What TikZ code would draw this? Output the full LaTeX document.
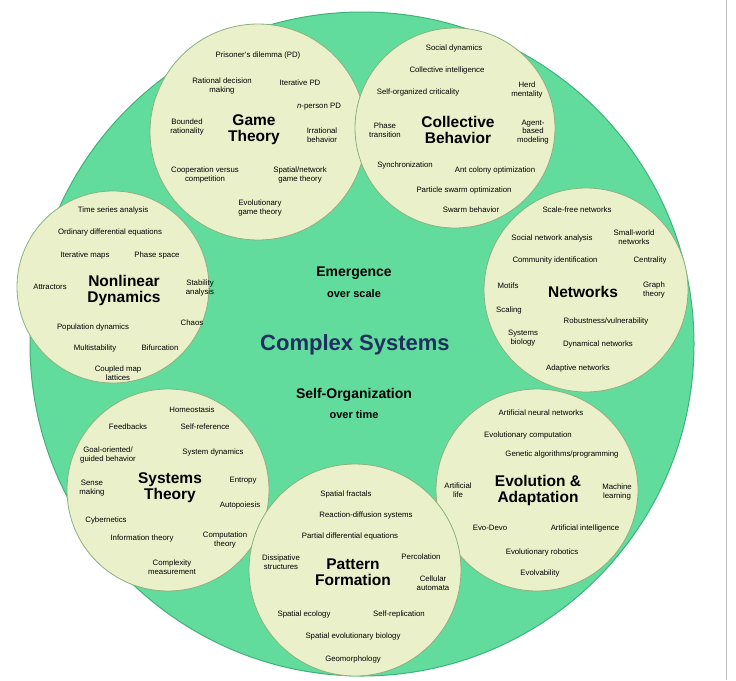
\documentclass[tikz,border=0pt]{standalone}
\usepackage{fontspec}
\setmainfont{Liberation Sans}
\begin{document}
\begin{tikzpicture}[x=1pt,y=-1pt,
  t/.style={font=\fontsize{7.8}{8.6}\selectfont,align=center,inner sep=0pt},
  ti/.style={font=\fontsize{15.5}{16}\selectfont\bfseries,align=center,inner sep=0pt},
  sm/.style={circle,fill=circfill,draw=circline,line width=0.8pt,inner sep=0pt}]
\definecolor{biggreen}{HTML}{62DC9C}
\definecolor{bigline}{HTML}{3FB27A}
\definecolor{circfill}{HTML}{EAF1CA}
\definecolor{circline}{HTML}{8CB07E}
\definecolor{navy}{HTML}{1F2F60}
\useasboundingbox (0,0) rectangle (736,680);
\fill[white] (0,0) rectangle (736,680);
\draw[gray!50] (726,0) -- (726,680);
\node[circle,fill=biggreen,draw=bigline,line width=1pt,minimum size=664pt] (big) at (362,344) {};
\node[sm,minimum size=216pt] (gt) at (258,132) {};
\node[sm,minimum size=200pt] (cb) at (455,128) {};
\node[sm,minimum size=192pt] (nd) at (113,287) {};
\node[sm,minimum size=204pt] (nw) at (586,290) {};
\node[sm,minimum size=202pt] (st) at (168,490) {};
\node[sm,minimum size=202pt] (ea) at (537,490) {};
\node[sm,minimum size=212pt] (pf) at (355,570) {};
% center
\node[t,font=\fontsize{14}{15}\selectfont\bfseries] (em) at (354,273) {Emergence};
\node[t,font=\fontsize{11}{12}\selectfont\bfseries] (em2) at (354,294) {over scale};
\node[t,font=\fontsize{22}{24}\selectfont\bfseries,text=navy] (cs) at (355,345) {Complex Systems};
\node[t,font=\fontsize{14}{15}\selectfont\bfseries] (so) at (354,395) {Self-Organization};
\node[t,font=\fontsize{11}{12}\selectfont\bfseries] (so2) at (354,415) {over time};
% game theory
\node[t] (g1) at (258,55) {Prisoner's dilemma (PD)};
\node[t] (g2) at (222,86) {Rational decision\\making};
\node[t] (g3) at (300,83) {Iterative PD};
\node[t] (g4) at (319,107) {\textit{n}-person PD};
\node[t] (g5) at (187,127) {Bounded\\rationality};
\node[ti] (g0) at (254,130) {Game\\Theory};
\node[t] (g6) at (322,135) {Irrational\\behavior};
\node[t] (g7) at (205,175) {Cooperation versus\\competition};
\node[t] (g8) at (300,175) {Spatial/network\\game theory};
\node[t] (g9) at (260,208) {Evolutionary\\game theory};
% collective
\node[t] (c1) at (454,48) {Social dynamics};
\node[t] (c2) at (447,70) {Collective intelligence};
\node[t] (c3) at (418,92) {Self-organized criticality};
\node[t] (c4) at (527,90) {Herd\\mentality};
\node[ti] (c0) at (458,130) {Collective\\Behavior};
\node[t] (c5) at (385,130) {Phase\\transition};
\node[t] (c6) at (533,132) {Agent-\\based\\modeling};
\node[t] (c7) at (405,165) {Synchronization};
\node[t] (c8) at (495,170) {Ant colony optimization};
\node[t] (c9) at (464,190) {Particle swarm optimization};
\node[t] (c10) at (471,210) {Swarm behavior};
% nonlinear
\node[t] (n1) at (113,210) {Time series analysis};
\node[t] (n2) at (110,232) {Ordinary differential equations};
\node[t] (n3) at (85,255) {Iterative maps};
\node[t] (n4) at (157,255) {Phase space};
\node[ti] (n0) at (124,290) {Nonlinear\\Dynamics};
\node[t] (n5) at (50,287) {Attractors};
\node[t] (n6) at (200,288) {Stability\\analysis};
\node[t] (n7) at (93,327) {Population dynamics};
\node[t] (n8) at (192,323) {Chaos};
\node[t] (n9) at (95,348) {Multistability};
\node[t] (n10) at (160,348) {Bifurcation};
\node[t] (n11) at (118,373) {Coupled map\\lattices};
% networks
\node[t] (w1) at (577,210) {Scale-free networks};
\node[t] (w2) at (552,238) {Social network analysis};
\node[t] (w3) at (634,237) {Small-world\\networks};
\node[t] (w4) at (555,260) {Community identification};
\node[t] (w5) at (650,260) {Centrality};
\node[t] (w6) at (508,286) {Motifs};
\node[ti] (w0) at (583,292) {Networks};
\node[t] (w7) at (654,290) {Graph\\theory};
\node[t] (w8) at (509,310) {Scaling};
\node[t] (w9) at (606,321) {Robustness/vulnerability};
\node[t] (w10) at (523,338) {Systems\\biology};
\node[t] (w11) at (598,344) {Dynamical networks};
\node[t] (w12) at (578,368) {Adaptive networks};
% systems theory
\node[t] (s1) at (192,410) {Homeostasis};
\node[t] (s2) at (128,427) {Feedbacks};
\node[t] (s3) at (205,427) {Self-reference};
\node[t] (s4) at (108,455) {Goal-oriented/\\guided behavior};
\node[t] (s5) at (213,452) {System dynamics};
\node[t] (s6) at (92,488) {Sense\\making};
\node[ti] (s0) at (170,488) {Systems\\Theory};
\node[t] (s7) at (243,481) {Entropy};
\node[t] (s8) at (240,505) {Autopoiesis};
\node[t] (s9) at (106,520) {Cybernetics};
\node[t] (s10) at (142,538) {Information theory};
\node[t] (s11) at (225,540) {Computation\\theory};
\node[t] (s12) at (172,567) {Complexity\\measurement};
% evolution
\node[t] (e1) at (541,413) {Artificial neural networks};
\node[t] (e2) at (528,435) {Evolutionary computation};
\node[t] (e3) at (562,454) {Genetic algorithms/programming};
\node[t] (e4) at (458,490) {Artificial\\life};
\node[ti] (e0) at (538,490) {Evolution \&\\Adaptation};
\node[t] (e5) at (617,492) {Machine\\learning};
\node[t] (e6) at (490,528) {Evo-Devo};
\node[t] (e7) at (585,528) {Artificial intelligence};
\node[t] (e8) at (542,552) {Evolutionary robotics};
\node[t] (e9) at (540,573) {Evolvability};
% pattern
\node[t] (p1) at (346,494) {Spatial fractals};
\node[t] (p2) at (366,515) {Reaction-diffusion systems};
\node[t] (p3) at (350,536) {Partial differential equations};
\node[t] (p4) at (281,562) {Dissipative\\structures};
\node[ti] (p0) at (353,572) {Pattern\\Formation};
\node[t] (p5) at (421,557) {Percolation};
\node[t] (p6) at (433,583) {Cellular\\automata};
\node[t] (p7) at (304,614) {Spatial ecology};
\node[t] (p8) at (399,614) {Self-replication};
\node[t] (p9) at (353,636) {Spatial evolutionary biology};
\node[t] (p10) at (353,659) {Geomorphology};
\end{tikzpicture}
\end{document}
